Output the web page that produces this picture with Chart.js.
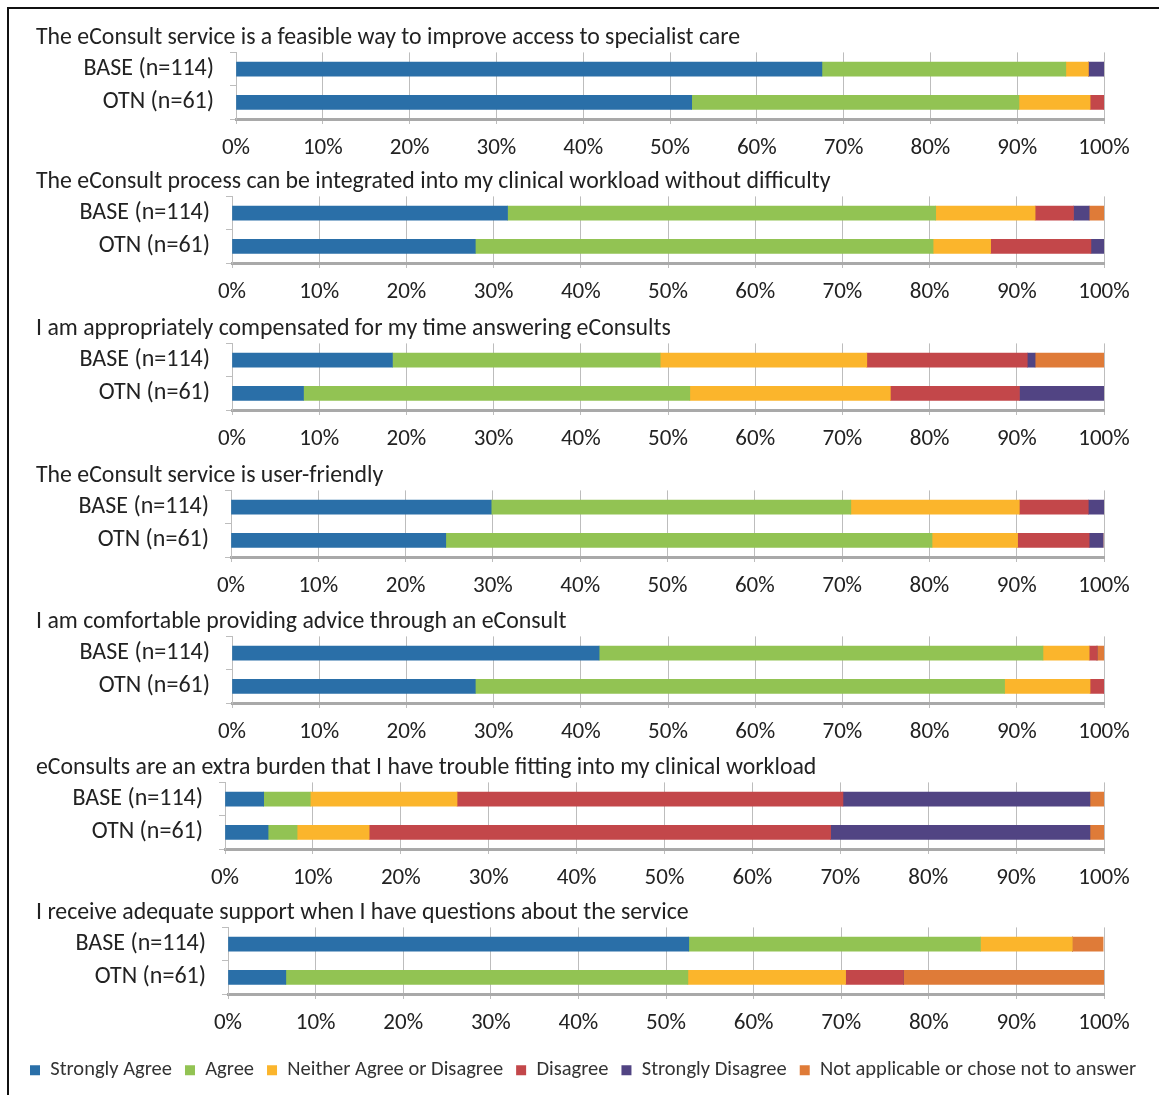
<!DOCTYPE html>
<html>
<head>
<meta charset="utf-8">
<title>eConsult survey</title>
<script src="https://cdn.jsdelivr.net/npm/chart.js@4.4.1/dist/chart.umd.min.js"></script>
<style>
    body {
        margin: 0;
        background: #ffffff;
        overflow: hidden;
    }
    .frame {
        position: absolute;
        left: 7px;
        top: 7px;
        width: 1150px;
        height: 1090px;
        border-left: 2px solid #111;
        border-top: 2px solid #111;
    }
    .panel {
        position: absolute;
        left: 10px;
        width: 1140px;
    }
</style>
</head>
<body>
<div class="frame"></div>
<div id="panels"></div>

<script>
const questions = [
    'The eConsult service is a feasible way to improve access to specialist care',
    'The eConsult process can be integrated into my clinical workload without difficulty',
    'I am appropriately compensated for my time answering eConsults',
    'The eConsult service is user-friendly',
    'I am comfortable providing advice through an eConsult',
    'eConsults are an extra burden that I have trouble fitting into my clinical workload',
    'I receive adequate support when I have questions about the service'
];
const groups = ['BASE (n=114)', 'OTN (n=61)'];
const responses = ['Strongly Agree', 'Agree', 'Neither Agree or Disagree', 'Disagree', 'Strongly Disagree', 'Not applicable or chose not to answer'];
const colors = ['#2a6fa8', '#92c353', '#fbb52c', '#c3474a', '#514483', '#df7b38'];

// percent per question, [BASE, OTN]
const stronglyAgree = [[67.5, 52.5], [31.6, 27.9], [18.4, 8.2], [29.8, 24.6], [42.1, 27.9], [4.4, 4.9], [52.6, 6.6]];
const agree = [[28.1, 37.7], [49.1, 52.5], [30.7, 44.3], [41.2, 55.7], [50.9, 60.7], [5.3, 3.3], [33.3, 45.9]];
const neither = [[2.6, 8.2], [11.4, 6.6], [23.7, 23.0], [19.3, 9.8], [5.3, 9.8], [16.7, 8.2], [10.5, 18.0]];
const disagree = [[0, 1.6], [4.4, 11.5], [18.4, 14.8], [7.9, 8.2], [0.9, 1.6], [43.9, 52.5], [0, 6.6]];
const stronglyDisagree = [[1.8, 0], [1.8, 1.6], [0.9, 9.8], [1.8, 1.6], [0, 0], [28.1, 29.5], [0, 0]];
const notApplicable = [[0, 0], [1.8, 0], [7.9, 0], [0, 0], [0.9, 0], [1.8, 1.6], [3.5, 23.0]];

const seriesList = [stronglyAgree, agree, neither, disagree, stronglyDisagree, notApplicable];

// layout of each panel (canvas top and the x where the plot starts)
const panelTops = [22, 166, 313, 460, 606, 752, 897];
const plotLefts = [236, 232, 232, 231, 232, 225, 228];
const canvasLeft = 10;
const panelHeight = 146;
const axisHeight = 43;

const font = 'Carlito, Lato, sans-serif';

function addCanvas(top, height) {
    const div = document.createElement('div');
    div.className = 'panel';
    div.style.top = top + 'px';
    div.style.height = height + 'px';
    const canvas = document.createElement('canvas');
    div.appendChild(canvas);
    document.getElementById('panels').appendChild(div);
    return canvas;
}

function buildPanel(i) {
    const canvas = addCanvas(panelTops[i], panelHeight);

    const datasets = responses.map((label, r) => ({
        label: label,
        data: seriesList[r][i],
        backgroundColor: colors[r],
        borderWidth: 0,
        barThickness: 14
    }));

    new Chart(canvas.getContext('2d'), {
        type: 'bar',
        data: {
            labels: groups,
            datasets: datasets
        },
        options: {
            indexAxis: 'y',
            responsive: true,
            maintainAspectRatio: false,
            animation: false,
            layout: {
                padding: {left: 26, right: 46, top: 0, bottom: 6}
            },
            plugins: {
                tooltip: {enabled: false},
                legend: {display: false},
                title: {
                    display: true,
                    text: questions[i],
                    align: 'start',
                    color: '#222',
                    font: {family: font, size: 23.8, weight: 'normal'},
                    padding: {top: 1, bottom: 0}
                }
            },
            scales: {
                x: {
                    stacked: true,
                    min: 0,
                    max: 100,
                    afterFit: scale => {
                        scale.height = axisHeight;
                    },
                    ticks: {
                        stepSize: 10,
                        padding: 10,
                        color: '#222',
                        font: {family: font, size: 23},
                        callback: v => v + '%'
                    },
                    grid: {
                        color: '#bdbdbd',
                        tickLength: 5
                    },
                    border: {color: '#a9a9a9', width: 3}
                },
                y: {
                    stacked: true,
                    afterFit: scale => {
                        scale.width = plotLefts[i] - canvasLeft - 26;
                    },
                    ticks: {
                        padding: 16,
                        color: '#222',
                        font: {family: font, size: 24}
                    },
                    grid: {
                        drawOnChartArea: false,
                        color: '#bdbdbd',
                        tickLength: 6
                    },
                    border: {color: '#bdbdbd', width: 1}
                }
            }
        }
    });
}

// legend sits on its own canvas under the last panel
function buildLegend() {
    const canvas = addCanvas(1047, 100);
    new Chart(canvas.getContext('2d'), {
        type: 'bar',
        data: {
            labels: [],
            datasets: responses.map((label, r) => ({
                label: label,
                data: [],
                backgroundColor: colors[r]
            }))
        },
        options: {
            responsive: true,
            maintainAspectRatio: false,
            animation: false,
            layout: {padding: {left: 7, right: 0, top: 0, bottom: 0}},
            scales: {
                x: {display: false},
                y: {display: false}
            },
            plugins: {
                tooltip: {enabled: false},
                legend: {
                    display: true,
                    position: 'top',
                    align: 'start',
                    labels: {
                        boxWidth: 10,
                        boxHeight: 10,
                        padding: 13,
                        color: '#333',
                        font: {family: font, size: 20.5}
                    }
                }
            }
        }
    });
}

for (let i = 0; i < questions.length; i++) {
    buildPanel(i);
}
buildLegend();
</script>
</body>
</html>
